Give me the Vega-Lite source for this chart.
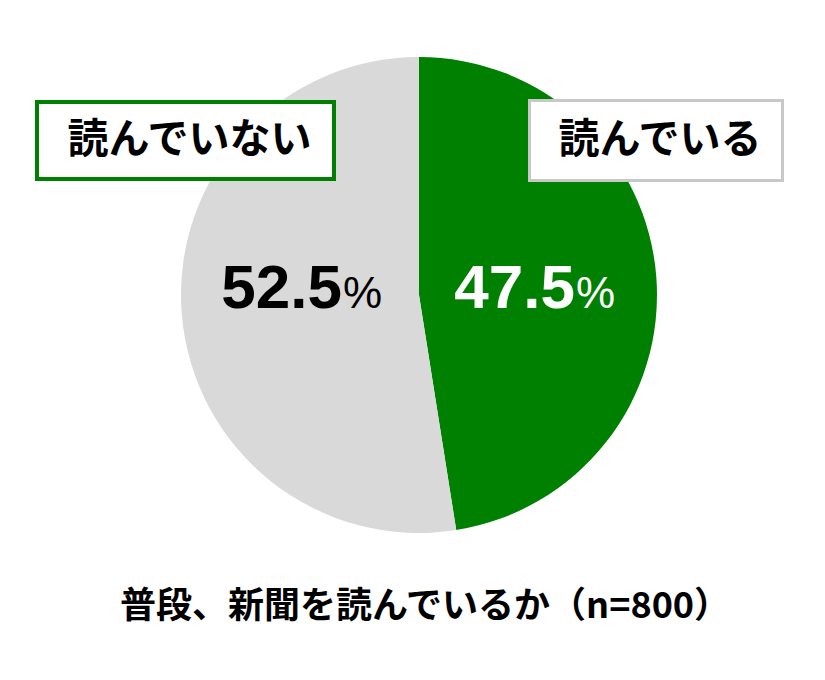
{
  "$schema": "https://vega.github.io/schema/vega-lite/v6.json",
  "width": 812,
  "height": 590,
  "padding": {"left": 13, "top": 0, "right": 0, "bottom": 10},
  "background": "white",
  "title": {
    "text": "普段、新聞を読んでいるか（n=800）",
    "orient": "bottom",
    "anchor": "middle",
    "offset": 0,
    "dx": 6,
    "font": "Noto Sans CJK JP",
    "fontSize": 36,
    "fontWeight": "bold",
    "color": "#000000"
  },
  "data": {
    "values": [
      {"category": "読んでいる", "value": 47.5},
      {"category": "読んでいない", "value": 52.5}
    ]
  },
  "layer": [
    {
      "mark": {"type": "arc", "radius": 238},
      "encoding": {
        "theta": {"field": "value", "type": "quantitative", "stack": true},
        "order": {"field": "value", "type": "quantitative", "sort": "ascending"},
        "color": {
          "field": "category",
          "type": "nominal",
          "scale": {"domain": ["読んでいる", "読んでいない"], "range": ["#008000", "#d9d9d9"]},
          "legend": null
        }
      }
    },
    {
      "encoding": {
        "x": {
          "field": "category",
          "type": "nominal",
          "axis": null,
          "scale": {"type": "point", "domain": ["読んでいない", "読んでいる"], "range": [329, 562], "padding": 0}
        },
        "y": {
          "field": "category",
          "type": "nominal",
          "axis": null,
          "scale": {"type": "point", "range": [308, 308], "padding": 0}
        },
        "fill": {
          "field": "category",
          "type": "nominal",
          "scale": {"domain": ["読んでいない", "読んでいる"], "range": ["#000000", "#ffffff"]},
          "legend": null
        }
      },
      "layer": [
        {
          "mark": {"type": "text", "align": "right", "baseline": "alphabetic", "font": "Liberation Sans", "fontSize": 62, "fontWeight": "bold"},
          "encoding": {"text": {"field": "value", "type": "quantitative", "format": ".1f"}}
        },
        {
          "mark": {"type": "text", "align": "left", "baseline": "alphabetic", "dx": 1, "font": "Liberation Sans Narrow, Liberation Sans", "fontSize": 44, "text": "%"}
        }
      ]
    },
    {
      "encoding": {
        "x": {
          "field": "category",
          "type": "nominal",
          "axis": null,
          "scale": {"type": "point", "domain": ["読んでいない", "読んでいる"], "range": [172.5, 643], "padding": 0}
        },
        "y": {
          "field": "category",
          "type": "nominal",
          "axis": null,
          "scale": {"type": "point", "range": [140.5, 140.5], "padding": 0}
        }
      },
      "layer": [
        {
          "mark": {"type": "point", "filled": true, "fill": "#ffffff", "opacity": 1, "size": 90000},
          "encoding": {
            "shape": {
              "field": "category",
              "type": "nominal",
              "scale": {
                "domain": ["読んでいない", "読んでいる"],
                "range": ["M-0.99,-0.2567H0.99V0.2567H-0.99Z", "M-0.8433,-0.2667H0.8433V0.2667H-0.8433Z"]
              },
              "legend": null
            },
            "stroke": {
              "field": "category",
              "type": "nominal",
              "scale": {"domain": ["読んでいない", "読んでいる"], "range": ["#008000", "#c8c8c8"]},
              "legend": null
            },
            "strokeWidth": {
              "field": "category",
              "type": "nominal",
              "scale": {"domain": ["読んでいない", "読んでいる"], "range": [4, 3]},
              "legend": null
            }
          }
        },
        {
          "mark": {"type": "text", "align": "center", "baseline": "middle", "dx": 4, "font": "Noto Sans CJK JP", "fontSize": 41, "fontWeight": "bold", "color": "#000000"},
          "encoding": {"text": {"field": "category", "type": "nominal"}}
        }
      ]
    }
  ],
  "resolve": {"scale": {"x": "independent", "y": "independent"}},
  "config": {"view": {"stroke": null}}
}
